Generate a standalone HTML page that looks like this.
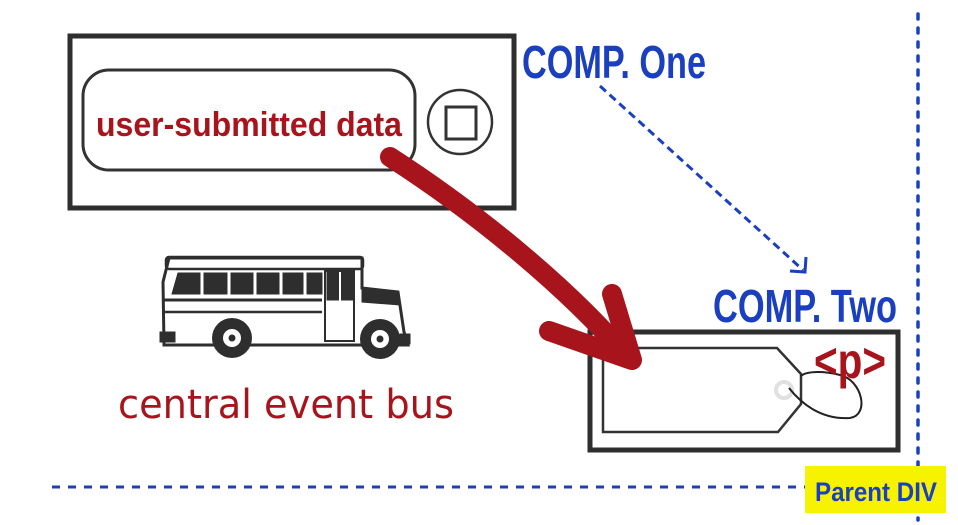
<!DOCTYPE html>
<html><head><meta charset="utf-8"><style>
html,body{margin:0;padding:0;background:#fff;width:958px;height:525px;overflow:hidden}
</style></head><body>
<svg width="958" height="525" viewBox="0 0 958 525" xmlns="http://www.w3.org/2000/svg">
<line x1="918" y1="14" x2="918" y2="520" stroke="#1a3fbf" stroke-width="3.5" stroke-dasharray="5 9" stroke-linecap="round"/>
<line x1="52" y1="487" x2="805" y2="487" stroke="#1a3fbf" stroke-width="3" stroke-dasharray="8 8"/>
<rect x="805" y="466" width="141" height="47" fill="#f7f200"/>
<text x="876" y="501" font-family="Liberation Sans, sans-serif" font-weight="bold" font-size="27" fill="#1a3fbf" text-anchor="middle" textLength="122" lengthAdjust="spacingAndGlyphs">Parent DIV</text>

<rect x="70" y="36" width="444" height="172" fill="none" stroke="#2e2e2e" stroke-width="5"/>
<rect x="83" y="70" width="332" height="100" rx="26" fill="none" stroke="#333" stroke-width="3"/>
<text x="249" y="136" font-family="Liberation Sans, sans-serif" font-weight="bold" font-size="34" fill="#a8141c" text-anchor="middle" textLength="306" lengthAdjust="spacingAndGlyphs">user-submitted data</text>
<circle cx="460" cy="122" r="32" fill="none" stroke="#333" stroke-width="2.5"/>
<rect x="446" y="107" width="30" height="32" fill="none" stroke="#333" stroke-width="3"/>

<text x="522" y="78" font-family="Liberation Sans, sans-serif" font-weight="bold" font-size="46" fill="#1a3fbf" textLength="184" lengthAdjust="spacingAndGlyphs">COMP. One</text>
<line x1="600" y1="86" x2="803" y2="270" stroke="#1a3fbf" stroke-width="3" stroke-dasharray="8 5"/>
<polyline points="790,271 805,272 806,257" fill="none" stroke="#1a3fbf" stroke-width="3"/>

<text x="713" y="322" font-family="Liberation Sans, sans-serif" font-weight="bold" font-size="46" fill="#1a3fbf" textLength="184" lengthAdjust="spacingAndGlyphs">COMP. Two</text>

<rect x="590" y="332" width="308" height="118" fill="none" stroke="#2e2e2e" stroke-width="5"/>
<polygon points="603,348 777,348 801,374 801,404 778,432 603,432" fill="none" stroke="#333" stroke-width="2.5"/>
<circle cx="784" cy="390" r="8" fill="none" stroke="#e0e0e0" stroke-width="4"/>
<path d="M789,388 C800,402 820,420 850,418 C870,415 862,380 840,375 C820,370 805,372 801,376" fill="none" stroke="#222" stroke-width="2"/>
<text x="850" y="378" font-family="Liberation Sans, sans-serif" font-weight="bold" font-size="50" fill="#a8141c" text-anchor="middle" textLength="72" lengthAdjust="spacingAndGlyphs">&lt;p&gt;</text>

<path d="M390,157 C480,215 570,290 628,358" fill="none" stroke="#a8141c" stroke-width="20" stroke-linecap="round"/>
<path d="M612,294 L632,360 L549,331" fill="none" stroke="#a8141c" stroke-width="20" stroke-linecap="round" stroke-linejoin="round"/>

<g stroke="#2e2e2e" fill="none">
<path d="M169,258 L362,258 L362,288 L398,292 L404,332 L408,345 L164,345 L163,282 Z" stroke-width="3" fill="#fff"/>
<rect x="166" y="257" width="197" height="12" rx="3" stroke-width="2.5"/>
<path d="M178,273 L322,273 L322,294 L172,294 Z" fill="#2e2e2e"/>
<g stroke="#fff" stroke-width="3"><line x1="202" y1="272" x2="202" y2="295"/><line x1="229" y1="272" x2="229" y2="295"/><line x1="255" y1="272" x2="255" y2="295"/><line x1="281" y1="272" x2="281" y2="295"/><line x1="305" y1="272" x2="305" y2="295"/></g>
<rect x="327" y="272" width="26" height="28" fill="#2e2e2e"/>
<line x1="340" y1="272" x2="340" y2="340" stroke="#fff" stroke-width="2"/>
<rect x="325" y="271" width="29" height="70" stroke-width="2"/>
<path d="M362,288 L398,292 L400,305 L362,302 Z" fill="#2e2e2e"/>
<line x1="163" y1="300" x2="322" y2="300" stroke-width="3"/>
<line x1="163" y1="312" x2="322" y2="312" stroke-width="2.5"/>
<rect x="160" y="332" width="15" height="10" fill="#2e2e2e"/>
<rect x="400" y="334" width="10" height="10" fill="#2e2e2e"/>
</g>
<circle cx="232" cy="338" r="20" fill="#2e2e2e"/><circle cx="232" cy="338" r="9" fill="#fff"/><circle cx="232" cy="338" r="3.5" fill="#2e2e2e"/>
<circle cx="380" cy="339" r="20" fill="#2e2e2e"/><circle cx="380" cy="339" r="9" fill="#fff"/><circle cx="380" cy="339" r="3.5" fill="#2e2e2e"/>

<text x="118" y="418" font-family="DejaVu Sans, sans-serif" font-size="40" fill="#a8141c" textLength="336" lengthAdjust="spacingAndGlyphs">central event bus</text>
</svg>
</body></html>
